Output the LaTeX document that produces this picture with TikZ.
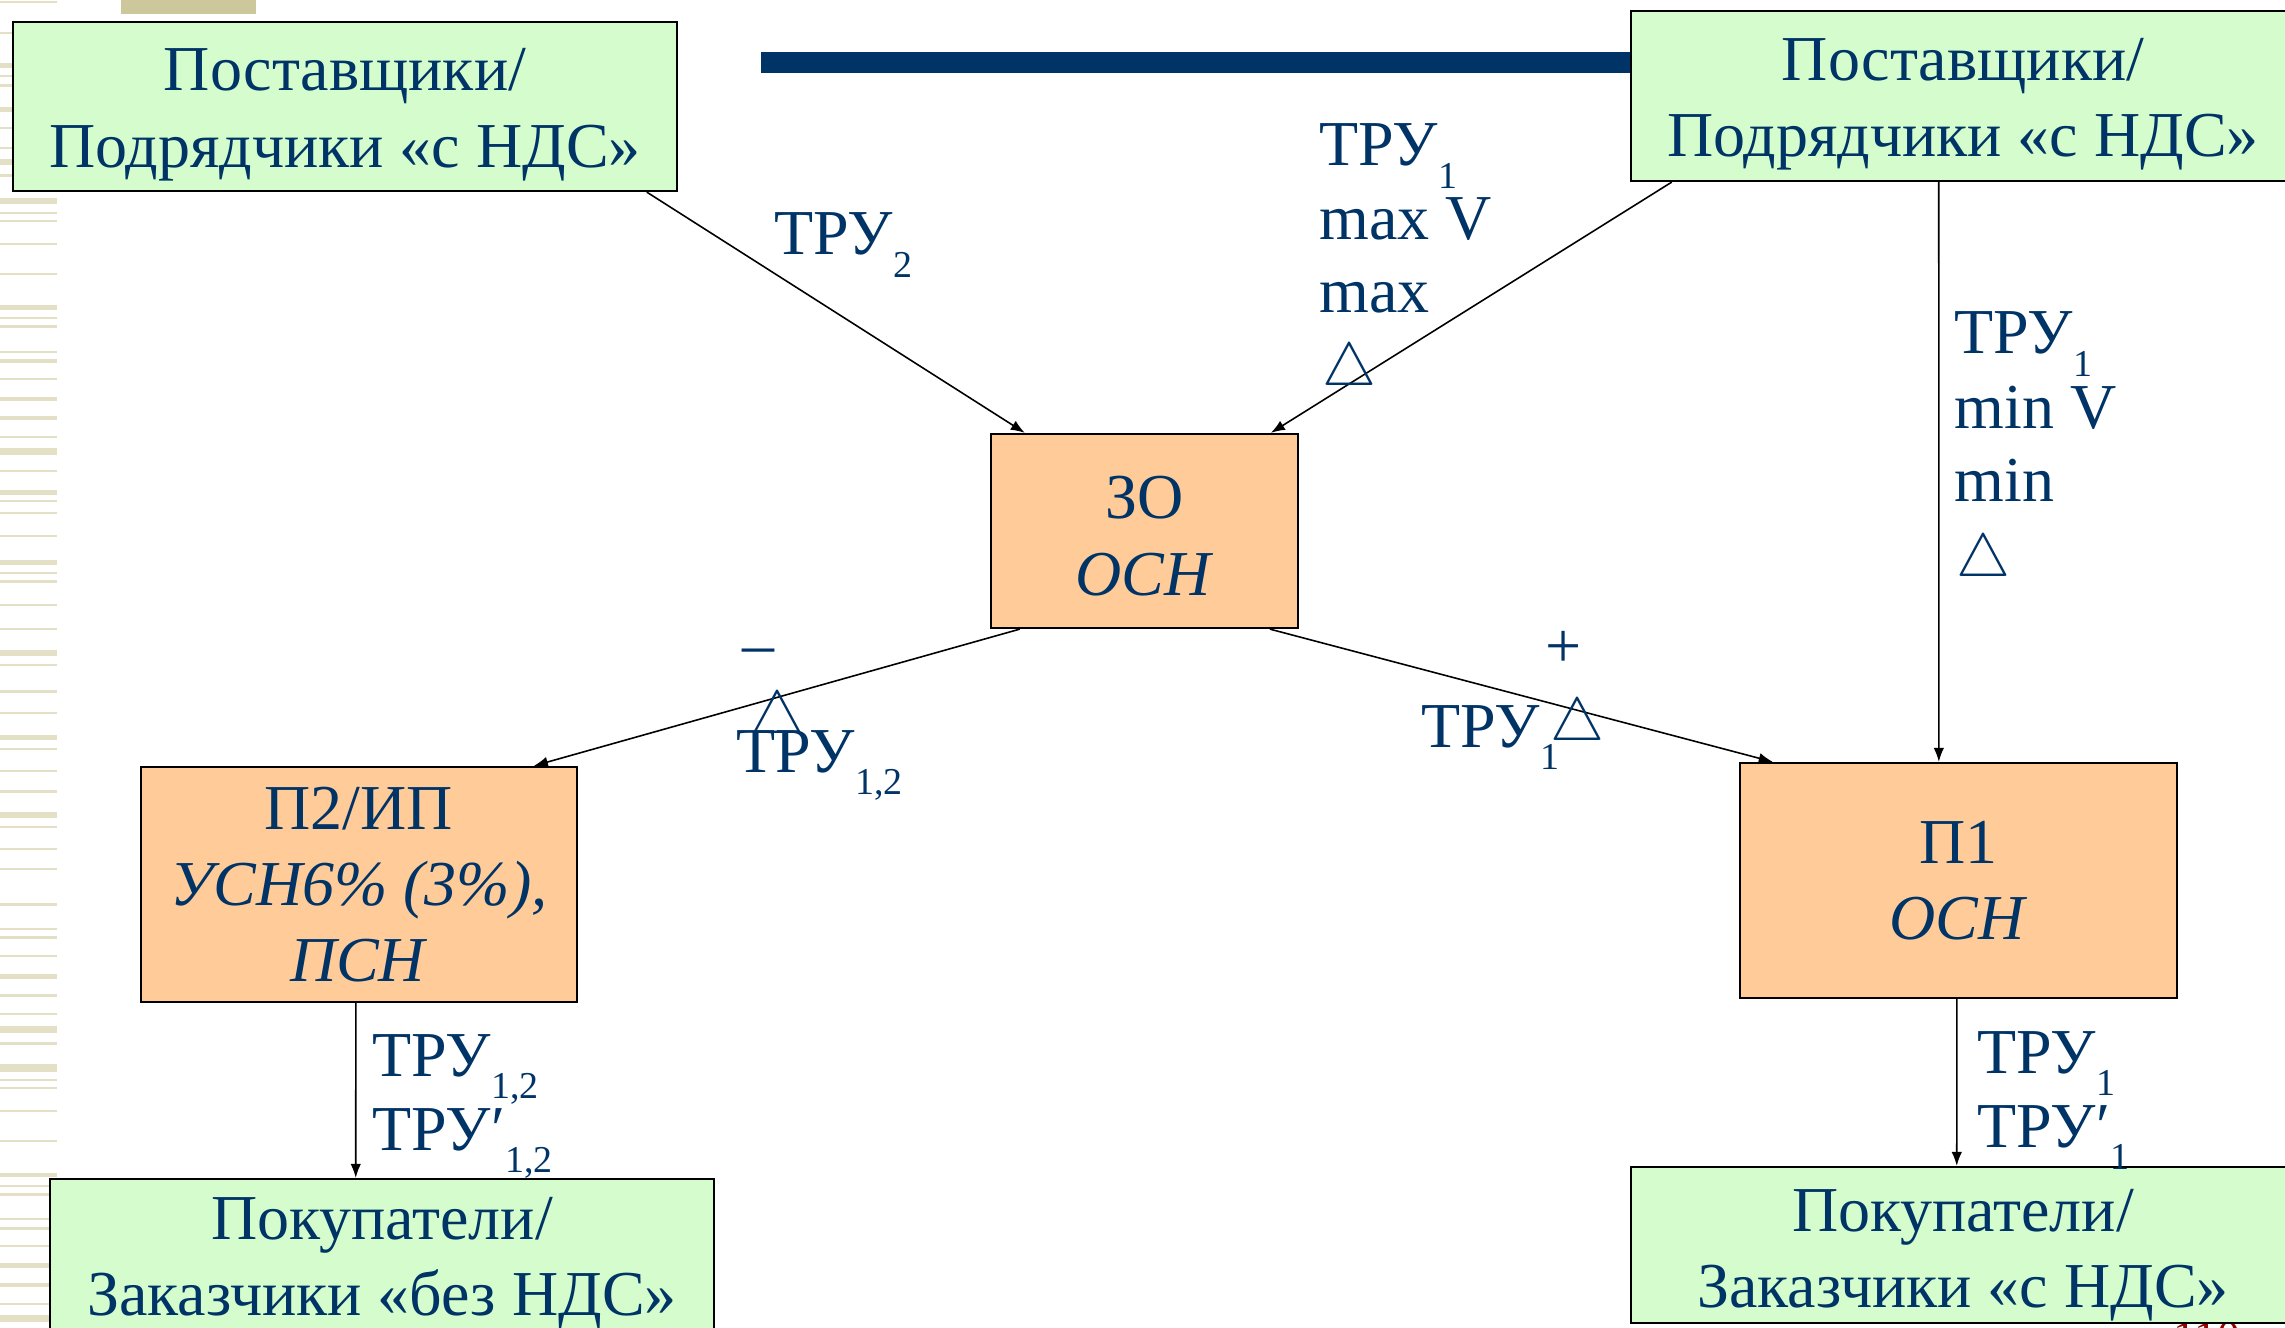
\documentclass[tikz,border=0pt]{standalone}
\usepackage{fontspec}
\setmainfont{Liberation Serif}
\usetikzlibrary{arrows.meta,calc}

\definecolor{ink}{HTML}{003366}
\definecolor{boxgreen}{HTML}{D4FCCC}
\definecolor{boxorange}{HTML}{FFCC99}
\definecolor{stripe}{HTML}{E3E0C6}
\definecolor{stripedark}{HTML}{CCC89C}
\definecolor{pagenum}{HTML}{990000}

% lowered index after a label, as in TPY_1
\newcommand{\lsub}[1]{\raisebox{-6.4pt}{\fontsize{10.8pt}{12pt}\selectfont #1}}
% outline triangle (delta sign)
\newcommand{\tri}[1][19pt]{{\fontsize{#1}{#1}\selectfont$\triangle$}}
% taller first line, to set the text of a box a little lower
\newcommand{\lift}[1]{\rule{0pt}{#1}}

\begin{document}
\begin{tikzpicture}[x=0.01cm,y=-0.01cm,
  box/.style={draw=black, line width=0.6pt, text=ink, align=center,
    font=\fontsize{18.2pt}{21.7pt}\selectfont, inner sep=0pt},
  greenbox/.style={box, fill=boxgreen, minimum width=6.64cm},
  orangebox/.style={box, fill=boxorange},
  lbl/.style={anchor=base west, inner sep=0pt, text=ink,
    font=\fontsize{18.2pt}{21.7pt}\selectfont},
  sign/.style={anchor=base west, inner sep=0pt, text=ink},
  flow/.style={line width=0.45pt, -{Latex[length=4pt,width=3pt]}}]

\clip (0,0) rectangle (2285,1328);
\fill[white] (0,0) rectangle (2285,1328);

% striped margin on the left
\foreach \y/\h in {1/2,32/2,63/5,75/2,84/3,107/5,127/2,147/2,159/6,174/3,
  198/6,212/2,220/2,243/2,273/2,305/5,317/2,325/3,351/2,359/4,378/2,397/4,
  416/4,436/2,448/7,470/2,490/5,500/2,512/2,535/2,560/5,572/2,580/3,604/2,
  628/2,650/6,664/2,690/3,712/2,735/5,748/2,770/2,790/3,812/6,826/2,848/2,
  868/2,903/3,928/2,936/3,955/2,974/5,994/3,1013/2,1026/7,1042/3,1064/8,
  1079/2,1087/2,1110/2,1140/2,1173/4,1185/2,1193/3,1218/2,1227/3,1245/2,
  1263/5,1283/4,1303/2,1315/7}
  \fill[stripe] (0,\y) rectangle (57,{\y+\h});
\fill[stripedark] (121,0) rectangle (256,14);

% title rule
\fill[ink] (761,52) rectangle (1640,73);

% page number, mostly hidden under the lower right box
\node[anchor=base west, inner sep=0pt, text=pagenum,
  font=\fontsize{13pt}{14pt}\selectfont] (pg) at (2173,1352) {110};

% boxes
\node[greenbox, minimum height=1.69cm] (tl) at (345,106.5)
  {\lift{0.92em}Поставщики/\\Подрядчики «с НДС»};
\node[greenbox, minimum height=1.70cm] (tr) at (1963,96)
  {\lift{0.92em}Поставщики/\\Подрядчики «с НДС»};
\node[orangebox, minimum width=3.07cm, minimum height=1.94cm] (zo) at (1144.5,531)
  {\lift{0.82em}ЗО\\\textit{ОСН}};
\node[orangebox, minimum width=4.36cm, minimum height=2.35cm] (p2) at (359,884.5)
  {П2/ИП\\\textit{УСН6\% (3\%),}\\\textit{ПСН}};
\node[orangebox, minimum width=4.37cm, minimum height=2.35cm] (p1) at (1958.5,880.5)
  {П1\\\textit{ОСН}};
\node[greenbox, minimum height=1.69cm] (bl) at (382,1263.5)
  {Покупатели/\\Заказчики «без НДС»};
\node[greenbox, minimum height=1.56cm] (br) at (1963,1245)
  {\lift{0.97em}Покупатели/\\Заказчики «с НДС»};

% connectors
\draw[flow] ($(tl.south west)+(635,0)$) -- ($(zo.north west)+(35,0)$);
\draw[flow] ($(tr.south west)+(42,0)$) -- ($(zo.north west)+(281,0)$);
\draw[flow] ($(zo.south west)+(30,0)$) -- ($(p2.north west)+(394,0)$);
\draw[flow] ($(zo.south west)+(280,0)$) -- ($(p1.north west)+(34,0)$);
\draw[flow] ($(tr.south west)+(309,0)$) -- ($(p1.north west)+(200,0)$);
\draw[flow] ($(p2.south west)+(216,0)$) -- ($(bl.north west)+(307,0)$);
\draw[flow] ($(p1.south west)+(218,0)$) -- ($(br.north west)+(327,0)$);

% labels of the upper arrows
\node[lbl] (a1) at (774,255) {ТРУ\lsub{2}};

\node[lbl] (b1) at (1319,166) {ТРУ\lsub{1}};
\node[lbl] (b2) at (1319,240) {max V};
\node[lbl] (b3) at (1319,313) {max};
\node[sign] (b4) at (1322,386) {\tri};

\node[lbl] (c1) at (1954,354) {ТРУ\lsub{1}};
\node[lbl] (c2) at (1954,429) {min V};
\node[lbl] (c3) at (1954,502) {min};
\node[sign] (c4) at (1956,577) {\tri};

% labels of the middle arrows
\node[lbl] (d1) at (742,666) {–};
\node[sign] (d2) at (750,733) {\tri[18pt]};
\node[lbl] (d3) at (736,772) {ТРУ\lsub{1,2}};

\node[lbl] (e1) at (1545,667) {+};
\node[lbl] (e2) at (1421,747) {ТРУ\lsub{1}};
\node[sign] (e3) at (1550,741) {\tri};

% labels of the lower arrows
\node[lbl] (f1) at (372,1076) {ТРУ\lsub{1,2}};
\node[lbl] (f2) at (372,1150) {ТРУ′\lsub{1,2}};

\node[lbl] (g1) at (1977,1073) {ТРУ\lsub{1}};
\node[lbl] (g2) at (1977,1147) {ТРУ′\lsub{1}};
\end{tikzpicture}
\end{document}
